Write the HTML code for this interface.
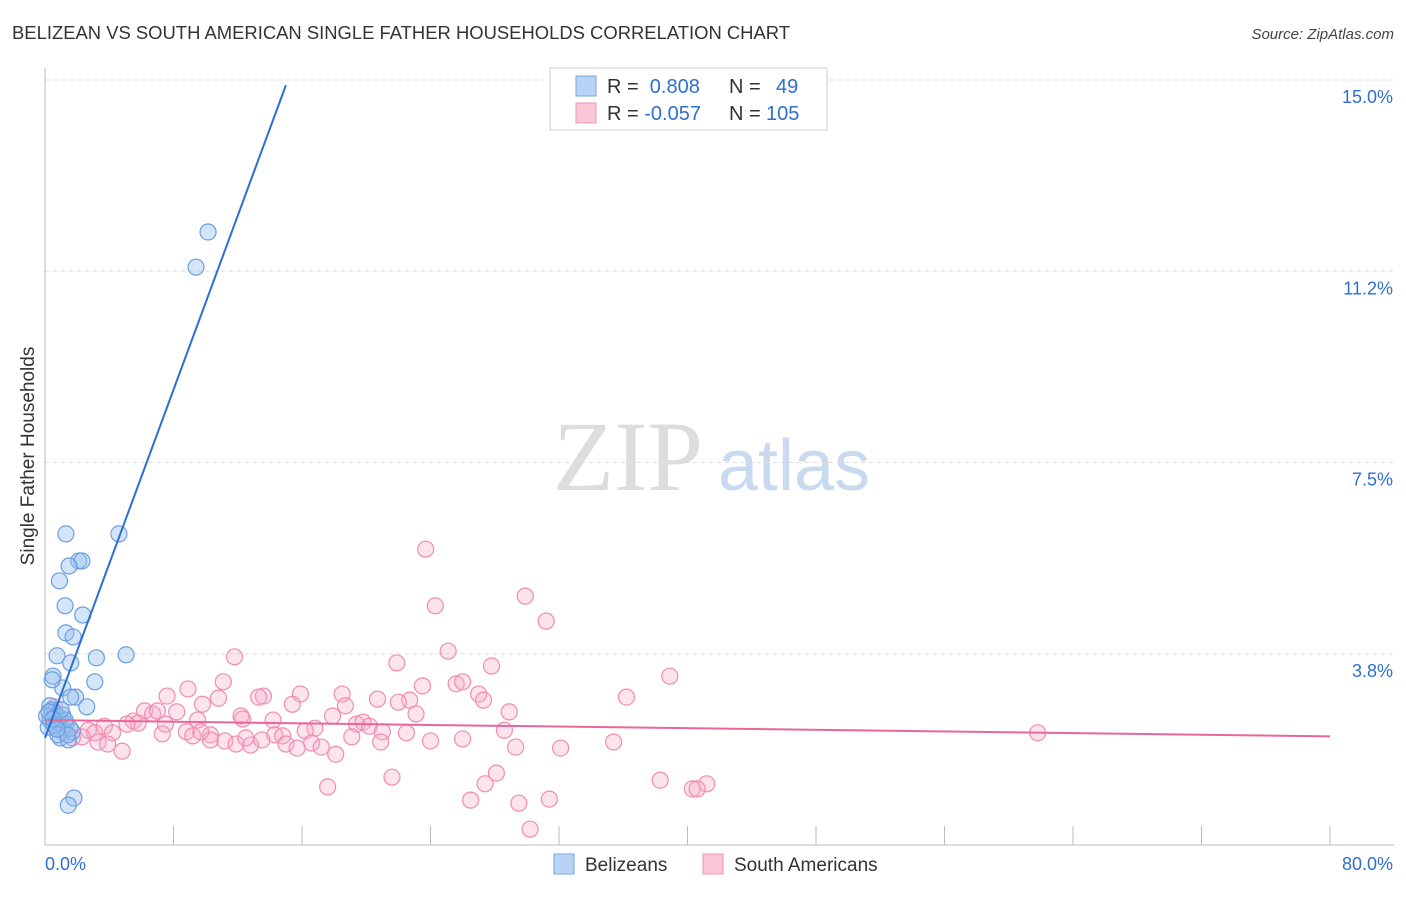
<!DOCTYPE html>
<html><head><meta charset="utf-8"><style>
body{margin:0;background:#fff;font-family:"Liberation Sans",sans-serif;}
</style></head><body>
<svg id="chart" width="1406" height="892" xmlns="http://www.w3.org/2000/svg" font-family="Liberation Sans, sans-serif">
<text x="12" y="39" font-size="18" fill="#333" textLength="778" lengthAdjust="spacingAndGlyphs">BELIZEAN VS SOUTH AMERICAN SINGLE FATHER HOUSEHOLDS CORRELATION CHART</text>
<text x="1394" y="39" font-size="15" fill="#444" text-anchor="end" font-style="italic">Source: ZipAtlas.com</text>
<g>
<text x="553" y="490" font-size="100" fill="#ddd" style="font-family:'Liberation Serif',serif">ZIP</text>
<text x="718" y="490" font-size="72" fill="#c9d9ef">atlas</text>
</g>
<g id="grid"></g>
<g id="axes"></g>
<text transform="translate(34,456) rotate(-90)" font-size="19" fill="#333" text-anchor="middle">Single Father Households</text>
<g id="marks"></g>
<g>
<rect x="550" y="68" width="277" height="62" fill="#fff" stroke="#ccc"/>
<rect x="576" y="76" width="20" height="20" fill="#b8d3f4" stroke="#7aa7e0"/>
<rect x="576" y="103" width="20" height="20" fill="#f9c6d6" stroke="#ef94b2"/>
<text x="607" y="93" font-size="20" fill="#333">R = <tspan fill="#2f6fd0">&#160;0.808</tspan><tspan x="729">N = </tspan><tspan x="776" fill="#2f6fd0">49</tspan></text>
<text x="607" y="120" font-size="20" fill="#333">R = <tspan fill="#2f6fd0">-0.057</tspan><tspan x="729">N = </tspan><tspan x="766" fill="#2f6fd0">105</tspan></text>
</g>
<g>
<rect x="554" y="854" width="20" height="20" fill="#b8d3f4" stroke="#7aa7e0"/>
<text x="585" y="871" font-size="19" fill="#333">Belizeans</text>
<rect x="703" y="854" width="20" height="20" fill="#f9c6d6" stroke="#ef94b2"/>
<text x="734" y="871" font-size="19" fill="#333">South Americans</text>
</g>
</svg>
<script>
const yTicks=[3.75,7.5,11.25,15];
const yTickLabels=["3.8%","7.5%","11.2%","15.0%"];
const xTicks=[0,8,16,24,32,40,48,56,64,72,80];
const blueX=[10.15,9.4,1.3,4.6,2.1,2.3,1.5,0.9,1.25,2.35,1.3,1.75,0.75,3.2,5.05,1.6,0.5,3.1,1.1,0.45,1.9,1.6,2.6,0.3,0.6,0.95,0.3,0.8,1.3,0.2,1.05,1.7,0.95,1.45,1.8,1.45,0.45,0.7,1.1,0.1,0.55,1.25,1.55,0.8,0.25,1.0,0.5,1.4,0.75];
const blueY=[12.02,11.33,6.10,6.10,5.57,5.57,5.47,5.18,4.69,4.51,4.16,4.08,3.71,3.67,3.73,3.57,3.31,3.20,3.08,3.24,2.90,2.90,2.71,2.73,2.61,2.49,2.45,2.41,2.37,2.31,2.25,2.22,2.10,2.06,0.92,0.78,2.65,2.53,2.55,2.53,2.35,2.45,2.29,2.16,2.61,2.65,2.47,2.16,2.27];
const pinkX=[23.7,29.9,24.3,31.2,25.1,11.8,21.9,27.8,38.9,11.1,8.9,15.9,13.6,18.5,23.5,25.6,26.0,27.0,36.2,7.6,10.8,13.3,20.7,22.7,22.0,27.3,15.4,9.8,18.7,6.2,6.7,8.2,7.0,28.9,12.2,12.3,17.9,23.1,5.5,5.8,9.5,14.2,7.5,5.1,3.7,19.4,19.8,20.2,16.8,21.0,22.5,16.2,2.7,3.1,4.2,8.8,9.2,14.3,14.8,10.3,7.3,19.1,10.3,11.2,11.9,12.8,13.5,15.0,15.7,16.6,17.2,20.9,24.0,26.0,28.6,29.3,32.1,35.4,61.8,3.3,3.9,4.8,2.3,1.7,1.2,0.9,0.4,0.6,21.6,28.1,27.4,17.6,38.3,41.2,40.3,40.6,26.5,29.5,31.4,30.2,18.1,9.7,12.5];
const pinkY=[5.80,4.88,4.69,4.39,3.80,3.69,3.57,3.51,3.31,3.20,3.06,2.96,2.92,2.96,3.12,3.16,3.20,2.96,2.90,2.92,2.88,2.90,2.86,2.84,2.80,2.84,2.76,2.76,2.73,2.63,2.57,2.61,2.63,2.61,2.53,2.47,2.53,2.57,2.43,2.39,2.45,2.45,2.37,2.37,2.33,2.37,2.41,2.33,2.29,2.22,2.20,2.24,2.25,2.20,2.20,2.22,2.14,2.16,2.14,2.16,2.18,2.12,2.06,2.04,1.98,1.96,2.06,1.98,1.90,2.00,1.92,2.02,2.04,2.08,2.25,1.92,1.90,2.02,2.20,2.02,1.98,1.84,2.12,2.10,2.25,2.45,2.55,2.71,1.33,1.41,1.20,1.14,1.27,1.20,1.10,1.10,0.88,0.82,0.90,0.31,1.78,2.22,2.10];
const blueFit=[[0,2.1],[15,14.9]];
const pinkFit=[[0,2.45],[80,2.13]];
const X0=45,X1=1330,Y0=845,PXY=51;
const sx=v=>X0+(v/80)*(X1-X0);
const sy=v=>Y0-v*PXY;
const NS="http://www.w3.org/2000/svg";
function mk(tag,attrs,parent){const e=document.createElementNS(NS,tag);for(const k in attrs)e.setAttribute(k,attrs[k]);document.getElementById(parent).appendChild(e);return e;}
let g=mk('line',{x1:X0,x2:1394,y1:sy(15),y2:sy(15),stroke:'#ddd','stroke-dasharray':'4,4'},'grid');


yTicks.forEach((t,i)=>{
 const l=mk('line',{x1:X0,x2:1394,y1:sy(t),y2:sy(t),stroke:'#ddd','stroke-dasharray':'4,4'},'grid');
 
 
 const tx=mk('text',{x:1393,y:sy(t)+23,'font-size':18,fill:'#2f6fd0','text-anchor':'end'},'axes');
 tx.textContent=yTickLabels[i];
 
 
});
let ax=mk('line',{x1:X0,x2:X0,y1:68,y2:Y0,stroke:'#bbb'},'axes');


ax=mk('line',{x1:X0,x2:1394,y1:Y0,y2:Y0,stroke:'#bbb'},'axes');


xTicks.forEach(t=>{const l=mk('line',{x1:sx(t),x2:sx(t),y1:826,y2:Y0,stroke:'#bbb'},'axes');
 
 });
let xl=mk('text',{x:45,y:870,'font-size':18,fill:'#2f6fd0'},'axes');xl.textContent='0.0%';


xl=mk('text',{x:1393,y:870,'font-size':18,fill:'#2f6fd0','text-anchor':'end'},'axes');xl.textContent='80.0%';


pinkX.forEach((v,i)=>{const c=mk('circle',{cx:sx(v),cy:sy(pinkY[i]),r:8,fill:'rgba(247,175,200,0.35)',stroke:'#f08cb0','stroke-width':1.2},'marks');
 
 });
blueX.forEach((v,i)=>{const c=mk('circle',{cx:sx(v),cy:sy(blueY[i]),r:8,fill:'rgba(150,190,240,0.4)',stroke:'#6a9ee0','stroke-width':1.2},'marks');
 
 });
let f=mk('line',{x1:sx(pinkFit[0][0]),y1:sy(pinkFit[0][1]),x2:sx(pinkFit[1][0]),y2:sy(pinkFit[1][1]),stroke:'#e8679a','stroke-width':2},'marks');


f=mk('line',{x1:sx(blueFit[0][0]),y1:sy(blueFit[0][1]),x2:sx(blueFit[1][0]),y2:sy(blueFit[1][1]),stroke:'#2a6fd6','stroke-width':2},'marks');


</script>
</body></html>
